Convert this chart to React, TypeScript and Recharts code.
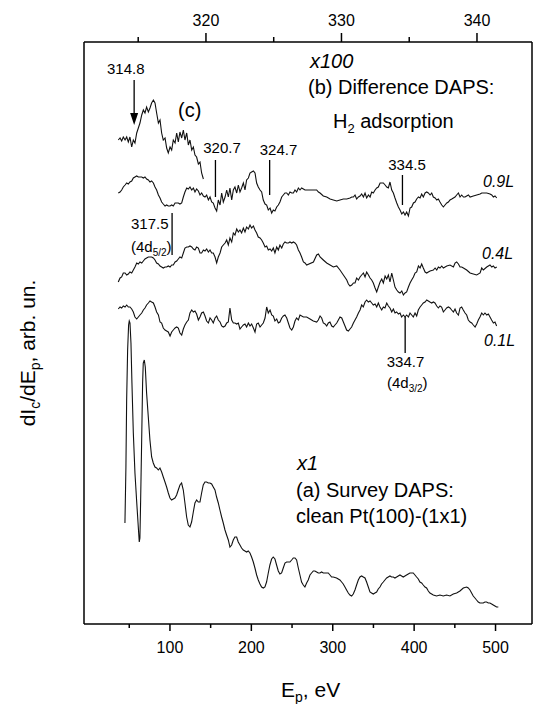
import { LineChart, Line, XAxis, YAxis, ReferenceLine, ReferenceDot } from 'recharts';

const FONT = '"Liberation Sans", Arial, Helvetica, sans-serif';

// Axis ticks
const bottomTicks = [50, 100, 150, 200, 250, 300, 350, 400, 450, 500];
const topTicks = [315, 320, 325, 330, 335, 340];

// (a) Survey DAPS, x1, bottom axis (Ep, eV) vs arb. un.
const survey: [number, number][] = [
  [44.7, 10.1], [45.9, 15.7], [46.8, 22.4], [48.0, 27.4], [49.2, 29.9], [50.0, 30.3], [50.9, 30.1], [52.1, 28.1],
  [53.3, 24.1], [55.0, 19.1], [57.0, 15.1], [59.0, 12.4], [61.1, 9.7], [62.3, 8.2], [63.1, 8.6], [64.0, 12.4],
  [65.2, 18.1], [66.4, 24.1], [67.2, 26.1], [68.5, 26.4], [69.7, 25.7], [71.3, 23.1], [73.4, 20.7], [75.4, 18.4],
  [77.5, 16.7], [79.5, 16.1], [81.6, 15.7], [83.6, 15.6], [85.7, 15.4], [87.7, 15.6], [89.8, 15.2], [91.8, 14.7],
  [93.9, 14.2], [95.9, 13.7], [98.0, 13.1], [100.0, 12.6], [102.0, 12.4], [104.1, 12.5], [106.1, 12.6], [108.2, 12.9],
  [110.2, 13.4], [112.3, 13.9], [114.3, 14.1], [116.4, 13.4], [118.4, 12.1], [120.5, 10.7], [122.5, 9.9], [124.6, 9.7],
  [126.6, 10.2], [128.7, 11.2], [130.7, 12.1], [132.8, 12.4], [134.8, 12.2], [136.9, 12.2], [138.9, 13.1], [140.9, 13.9],
  [143.0, 14.2], [145.0, 14.2], [147.1, 14.1], [149.1, 14.1], [151.2, 14.0], [153.2, 13.7], [155.3, 13.4], [157.3, 12.7],
  [159.4, 12.1], [161.4, 11.4], [163.5, 10.7], [165.5, 10.1], [167.6, 9.4], [169.6, 8.9], [171.7, 8.4], [173.7, 7.7],
  [175.8, 7.9], [177.8, 8.4], [179.8, 8.7], [181.9, 8.7], [183.9, 8.2], [186.0, 7.9], [188.0, 7.6], [190.1, 7.4],
  [192.1, 7.3], [194.2, 7.2], [196.2, 7.3], [198.3, 7.1], [200.3, 6.7], [202.4, 6.2], [204.4, 5.6], [206.5, 4.9],
  [208.5, 4.4], [210.6, 4.0], [212.6, 3.7], [214.7, 3.6], [216.7, 3.7], [218.7, 4.2], [220.8, 5.1], [222.8, 5.9],
  [224.9, 6.5], [226.9, 6.7], [229.0, 6.5], [231.0, 5.9], [233.1, 5.3], [235.1, 5.0], [237.2, 5.1], [239.2, 5.6],
  [241.3, 6.1], [243.3, 6.2], [245.4, 6.2], [247.4, 6.2], [249.5, 6.4], [251.5, 6.6], [253.6, 6.6], [255.6, 6.4],
  [257.7, 5.6], [259.7, 4.9], [261.7, 4.2], [263.8, 3.9], [265.8, 3.7], [267.9, 4.1], [269.9, 4.4], [272.0, 4.9],
  [274.0, 5.1], [276.1, 5.3], [278.1, 5.3], [280.2, 5.2], [282.2, 5.1], [284.3, 5.1], [286.3, 5.2], [288.4, 5.1],
  [290.4, 5.1], [292.5, 5.1], [294.5, 5.1], [296.6, 4.9], [298.6, 4.7], [300.6, 4.7], [304.7, 4.6], [308.8, 4.4],
  [310.9, 4.2], [312.9, 4.0], [315.0, 3.7], [317.0, 3.4], [319.1, 3.1], [321.1, 2.9], [323.2, 2.8], [325.2, 3.0],
  [327.3, 3.4], [329.3, 3.9], [331.4, 4.4], [333.4, 4.7], [335.5, 4.8], [337.5, 4.7], [339.6, 4.6], [341.6, 4.2],
  [343.7, 3.7], [345.7, 3.2], [347.7, 3.1], [349.8, 3.0], [351.8, 3.1], [353.9, 3.2], [355.9, 3.5], [358.0, 3.7],
  [360.0, 4.0], [362.1, 4.2], [364.1, 4.4], [366.2, 4.6], [368.2, 4.7], [370.3, 4.8], [372.3, 4.7], [374.4, 4.7],
  [376.4, 4.6], [378.5, 4.7], [380.5, 4.8], [382.6, 4.9], [384.6, 4.8], [386.6, 4.7], [388.7, 4.8], [390.7, 4.9],
  [392.8, 5.0], [394.8, 5.1], [396.9, 5.1], [398.9, 5.1], [401.0, 4.9], [403.0, 4.7], [405.1, 4.5], [407.1, 4.2],
  [409.2, 4.1], [411.2, 3.9], [413.3, 3.7], [415.3, 3.6], [417.4, 3.3], [419.4, 3.1], [421.5, 3.0], [423.5, 2.9],
  [427.6, 2.8], [431.7, 2.9], [435.8, 2.8], [439.9, 2.9], [444.0, 2.8], [448.1, 3.0], [452.2, 3.1], [456.3, 3.3],
  [460.4, 3.6], [464.5, 3.7], [466.5, 3.6], [468.6, 3.4], [470.6, 3.1], [472.6, 2.8], [474.7, 2.6], [476.7, 2.4],
  [478.8, 2.2], [480.8, 2.1], [484.9, 2.1], [487.0, 2.2], [489.0, 2.2], [491.1, 2.1], [493.1, 2.1], [495.2, 2.0],
  [497.2, 1.9], [499.3, 1.8], [501.3, 1.7], [503.4, 1.7],
];

// (c) curve, top axis (eV) x100
const curveC: [number, number][] = [
  [313.53, 48.4], [313.66, 48.6], [313.78, 48.3], [313.9, 48.7], [314.03, 48.4], [314.15, 48.7], [314.27, 48.2],
  [314.39, 48.7], [314.52, 47.7], [314.64, 48.4], [314.76, 48.1], [314.89, 49.1], [315.01, 49.6], [315.13, 50.1],
  [315.26, 50.9], [315.38, 51.4], [315.5, 51.1], [315.62, 51.7], [315.75, 51.2], [315.87, 51.6], [315.99, 52.1],
  [316.12, 52.4], [316.24, 52.1], [316.36, 51.1], [316.49, 50.1], [316.61, 50.4], [316.73, 49.1], [316.85, 48.4],
  [316.98, 48.6], [317.1, 47.6], [317.22, 47.1], [317.35, 47.7], [317.47, 47.4], [317.59, 48.4], [317.72, 48.1],
  [317.84, 49.1], [317.96, 48.2], [318.08, 49.2], [318.21, 48.6], [318.33, 49.4], [318.45, 48.4], [318.58, 49.1],
  [318.7, 47.9], [318.82, 48.4], [318.95, 47.4], [319.07, 47.7], [319.19, 46.9], [319.31, 46.7], [319.44, 46.0],
  [319.56, 46.2], [319.68, 45.1], [319.81, 44.5],
];

// 0.9 L exposure
const exp09: [number, number][] = [
  [313.53, 43.1], [313.66, 43.2], [313.78, 43.4], [313.9, 43.7], [314.03, 43.9], [314.15, 44.1], [314.27, 44.0],
  [314.39, 44.2], [314.52, 44.3], [314.64, 44.6], [314.76, 44.7], [314.89, 44.8], [315.01, 44.7], [315.13, 44.7],
  [315.26, 44.7], [315.38, 44.6], [315.5, 44.7], [315.62, 44.5], [315.75, 44.4], [315.87, 44.2], [315.99, 44.3],
  [316.12, 44.1], [316.24, 43.7], [316.36, 43.4], [316.49, 42.9], [316.61, 42.6], [316.73, 42.2], [316.85, 42.0],
  [316.98, 41.8], [317.1, 41.9], [317.22, 41.8], [317.35, 41.8], [317.47, 41.9], [317.59, 41.8], [317.72, 42.1],
  [317.84, 42.1], [317.96, 42.1], [318.08, 42.0], [318.21, 42.1], [318.33, 42.7], [318.45, 43.2], [318.58, 43.6],
  [318.7, 43.5], [318.82, 43.7], [318.95, 43.4], [319.07, 43.6], [319.19, 43.2], [319.31, 43.5], [319.44, 43.3],
  [319.56, 42.9], [319.68, 43.1], [319.81, 42.8], [319.93, 42.7], [320.05, 42.9], [320.18, 42.4], [320.3, 42.7],
  [320.42, 42.2], [320.54, 42.1], [320.67, 41.6], [320.79, 41.3], [320.91, 42.4], [321.04, 41.9], [321.16, 43.1],
  [321.28, 42.2], [321.41, 42.7], [321.53, 43.4], [321.65, 42.7], [321.77, 43.6], [321.9, 42.4], [322.02, 43.4],
  [322.14, 43.7], [322.27, 43.1], [322.39, 43.9], [322.51, 43.2], [322.63, 43.6], [322.76, 44.1], [322.88, 43.4],
  [323.0, 44.4], [323.13, 44.6], [323.25, 45.1], [323.37, 45.2], [323.5, 45.3], [323.62, 45.1], [323.74, 44.1],
  [323.86, 43.7], [323.99, 43.4], [324.11, 43.2], [324.23, 42.4], [324.36, 42.0], [324.48, 41.9], [324.6, 41.4],
  [324.73, 41.6], [324.85, 41.1], [324.97, 41.4], [325.09, 41.3], [325.22, 41.7], [325.34, 41.9], [325.46, 42.2],
  [325.59, 42.7], [325.71, 42.9], [325.83, 43.1], [325.96, 43.1], [326.08, 42.9], [326.2, 43.2], [326.33, 43.1],
  [326.45, 43.1], [326.57, 43.4], [326.69, 43.2], [326.82, 43.6], [326.94, 43.4], [327.06, 43.6], [327.19, 43.5],
  [327.31, 43.4], [327.43, 43.4], [327.93, 43.4], [328.17, 43.4], [328.3, 43.2], [328.42, 43.1], [328.66, 42.8],
  [328.91, 42.7], [329.16, 42.5], [329.4, 42.4], [329.65, 42.3], [329.89, 42.4], [330.14, 42.5], [330.39, 42.5],
  [330.63, 42.6], [330.76, 42.7], [330.88, 42.7], [331.0, 42.9], [331.12, 42.5], [331.25, 42.7], [331.37, 42.8],
  [331.49, 43.0], [331.62, 42.7], [331.74, 43.1], [331.86, 42.6], [331.99, 42.9], [332.11, 42.7], [332.23, 43.2],
  [332.35, 43.1], [332.48, 43.4], [332.6, 43.6], [332.72, 43.7], [332.85, 44.1], [332.97, 44.1], [333.09, 44.1],
  [333.22, 43.9], [333.34, 43.7], [333.46, 43.6], [333.58, 44.2], [333.71, 43.4], [333.83, 43.1], [333.95, 42.6],
  [334.08, 42.1], [334.2, 41.7], [334.32, 41.4], [334.45, 41.0], [334.57, 41.2], [334.69, 40.9], [334.81, 41.2],
  [334.94, 40.8], [335.06, 41.6], [335.18, 41.7], [335.31, 42.1], [335.43, 42.2], [335.55, 42.5], [335.68, 42.7],
  [335.8, 42.6], [335.92, 43.0], [336.04, 42.7], [336.17, 43.1], [336.29, 43.2], [336.41, 43.1], [336.54, 42.9],
  [336.66, 43.1], [336.78, 42.7], [336.91, 42.6], [337.03, 42.4], [337.15, 42.5], [337.27, 42.2], [337.4, 41.9],
  [337.52, 41.7], [337.64, 41.9], [337.77, 42.1], [337.89, 42.2], [338.01, 42.4], [338.14, 42.5], [338.26, 42.6],
  [338.38, 42.7], [338.5, 42.9], [338.63, 43.1], [338.75, 42.7], [338.87, 42.9], [339.0, 42.7], [339.12, 42.7],
  [339.24, 42.8], [339.37, 42.9], [339.49, 42.7], [339.73, 42.8], [339.98, 42.9], [340.23, 43.0], [340.35, 43.1],
  [340.47, 43.1], [340.72, 43.1], [340.96, 43.0], [341.09, 42.9], [341.21, 42.7], [341.33, 42.8], [341.46, 42.6],
];

// 0.4 L exposure
const exp04: [number, number][] = [
  [313.53, 34.2], [313.66, 34.6], [313.78, 34.7], [313.9, 35.1], [314.03, 35.1], [314.15, 34.9], [314.27, 35.0],
  [314.39, 35.2], [314.52, 35.1], [314.64, 35.4], [314.76, 35.7], [314.89, 36.1], [315.01, 36.0], [315.13, 36.2],
  [315.26, 36.1], [315.38, 36.3], [315.5, 36.5], [315.62, 36.6], [315.75, 36.7], [315.87, 36.7], [315.99, 36.7],
  [316.12, 36.6], [316.24, 36.4], [316.36, 36.1], [316.49, 36.0], [316.61, 35.8], [316.73, 35.7], [316.85, 35.6],
  [316.98, 35.7], [317.1, 35.7], [317.22, 35.8], [317.35, 35.7], [317.47, 35.9], [317.59, 35.9], [317.72, 36.2],
  [317.84, 36.3], [317.96, 36.5], [318.08, 36.7], [318.21, 36.6], [318.33, 37.1], [318.45, 37.6], [318.58, 37.7],
  [318.7, 37.7], [318.82, 37.8], [318.95, 37.7], [319.07, 37.5], [319.19, 37.4], [319.31, 37.7], [319.44, 37.6],
  [319.56, 37.1], [319.68, 37.1], [319.81, 37.4], [319.93, 37.3], [320.05, 37.5], [320.18, 37.2], [320.3, 37.4],
  [320.42, 37.1], [320.54, 37.1], [320.67, 36.7], [320.79, 36.1], [320.91, 36.7], [321.04, 37.1], [321.16, 37.7],
  [321.28, 37.9], [321.41, 38.1], [321.53, 38.4], [321.65, 37.9], [321.77, 38.6], [321.9, 38.2], [322.02, 39.1],
  [322.14, 38.9], [322.27, 39.5], [322.39, 39.2], [322.51, 39.4], [322.63, 39.1], [322.76, 39.6], [322.88, 39.2],
  [323.0, 39.7], [323.13, 39.5], [323.25, 39.9], [323.37, 39.6], [323.5, 39.8], [323.62, 39.4], [323.74, 39.1],
  [323.86, 38.7], [323.99, 38.6], [324.11, 38.4], [324.23, 38.1], [324.36, 37.7], [324.48, 37.8], [324.6, 37.4],
  [324.73, 37.5], [324.85, 37.3], [324.97, 37.6], [325.09, 37.1], [325.22, 37.7], [325.34, 37.4], [325.46, 37.9],
  [325.59, 37.6], [325.71, 38.0], [325.83, 38.2], [325.96, 38.1], [326.08, 38.1], [326.2, 38.2], [326.33, 38.1],
  [326.45, 38.2], [326.57, 38.1], [326.69, 37.9], [326.82, 37.4], [326.94, 37.1], [327.06, 36.7], [327.19, 36.2],
  [327.31, 36.1], [327.43, 35.9], [327.93, 36.2], [328.17, 36.9], [328.3, 37.0], [328.42, 36.7], [328.66, 36.4],
  [328.91, 36.1], [329.16, 35.9], [329.4, 35.7], [329.65, 35.8], [329.89, 35.4], [330.14, 34.9], [330.39, 34.4],
  [330.51, 34.0], [330.63, 33.8], [330.76, 33.9], [330.88, 34.1], [331.0, 34.1], [331.12, 34.6], [331.25, 34.4],
  [331.37, 34.7], [331.49, 34.9], [331.62, 35.1], [331.74, 34.7], [331.86, 35.2], [331.99, 34.9], [332.11, 34.6],
  [332.23, 34.4], [332.35, 34.1], [332.48, 33.6], [332.6, 33.2], [332.72, 33.7], [332.85, 34.2], [332.97, 34.5],
  [333.09, 34.1], [333.22, 34.8], [333.34, 34.5], [333.46, 34.9], [333.58, 34.2], [333.71, 35.1], [333.83, 34.4],
  [333.95, 33.7], [334.08, 33.4], [334.2, 33.2], [334.32, 33.1], [334.45, 33.3], [334.57, 32.9], [334.69, 33.1],
  [334.81, 33.2], [334.94, 33.7], [335.06, 34.1], [335.18, 34.4], [335.31, 34.7], [335.43, 35.1], [335.55, 35.2],
  [335.68, 35.8], [335.8, 35.6], [335.92, 36.0], [336.04, 35.6], [336.17, 35.2], [336.29, 35.1], [336.41, 35.2],
  [336.54, 35.3], [336.78, 35.4], [336.91, 35.6], [337.03, 35.4], [337.15, 35.7], [337.27, 35.6], [337.4, 35.8],
  [337.52, 35.6], [337.77, 35.8], [338.01, 35.9], [338.26, 35.7], [338.38, 36.1], [338.5, 36.2], [338.63, 36.0],
  [338.75, 35.7], [338.87, 35.7], [339.0, 35.6], [339.24, 35.4], [339.49, 35.1], [339.73, 35.0], [339.98, 34.9],
  [340.23, 35.1], [340.35, 35.6], [340.47, 35.4], [340.72, 35.7], [340.96, 35.9], [341.09, 35.7], [341.21, 35.8],
  [341.33, 35.6], [341.46, 35.7],
];

// 0.1 L exposure
const exp01: [number, number][] = [
  [313.53, 31.5], [313.66, 31.7], [313.78, 31.6], [313.9, 31.8], [314.03, 31.7], [314.15, 31.9], [314.27, 31.7],
  [314.39, 31.7], [314.52, 31.5], [314.64, 31.2], [314.76, 30.7], [314.89, 30.5], [315.01, 30.7], [315.13, 30.9],
  [315.26, 31.1], [315.38, 31.4], [315.5, 31.6], [315.62, 31.9], [315.75, 32.1], [315.87, 32.3], [315.99, 32.2],
  [316.12, 32.1], [316.24, 31.7], [316.36, 31.2], [316.49, 30.9], [316.61, 30.2], [316.73, 30.1], [316.85, 29.6],
  [316.98, 29.4], [317.1, 29.3], [317.22, 29.2], [317.35, 28.8], [317.47, 29.2], [317.59, 29.4], [317.72, 29.6],
  [317.84, 29.7], [317.96, 29.6], [318.08, 29.1], [318.21, 28.9], [318.33, 29.5], [318.45, 29.9], [318.58, 30.2],
  [318.7, 30.4], [318.82, 31.1], [318.95, 31.4], [319.07, 31.2], [319.19, 31.3], [319.31, 31.0], [319.44, 30.4],
  [319.56, 30.7], [319.68, 31.1], [319.81, 31.2], [319.93, 30.8], [320.05, 30.3], [320.18, 30.1], [320.3, 30.6],
  [320.42, 30.4], [320.54, 30.1], [320.67, 30.6], [320.79, 30.8], [320.91, 30.4], [321.04, 30.2], [321.16, 29.8],
  [321.28, 29.7], [321.41, 29.8], [321.53, 30.1], [321.65, 30.2], [321.77, 31.6], [321.9, 30.4], [322.02, 30.1],
  [322.14, 30.1], [322.27, 30.0], [322.39, 30.1], [322.51, 29.5], [322.63, 29.7], [322.76, 29.9], [322.88, 30.0],
  [323.0, 29.7], [323.13, 30.1], [323.25, 29.8], [323.37, 30.0], [323.5, 29.6], [323.62, 29.2], [323.74, 30.0],
  [323.86, 30.1], [323.99, 29.7], [324.11, 29.9], [324.23, 30.1], [324.36, 30.6], [324.48, 31.7], [324.6, 31.1],
  [324.73, 31.4], [324.85, 30.9], [324.97, 30.8], [325.09, 30.3], [325.22, 30.5], [325.34, 30.1], [325.46, 30.2],
  [325.59, 30.6], [325.71, 30.8], [325.83, 30.9], [325.96, 30.6], [326.08, 30.1], [326.2, 29.6], [326.33, 29.4],
  [326.45, 29.7], [326.57, 30.3], [326.69, 30.6], [326.82, 30.4], [326.94, 30.9], [327.19, 30.7], [327.43, 30.7],
  [327.68, 30.5], [327.92, 30.3], [328.17, 30.2], [328.29, 30.4], [328.42, 30.8], [328.54, 30.6], [328.66, 30.1],
  [328.79, 30.0], [328.91, 29.8], [329.03, 30.1], [329.15, 30.2], [329.28, 29.8], [329.4, 29.7], [329.52, 29.9],
  [329.65, 30.1], [329.77, 30.4], [329.89, 30.7], [330.02, 30.6], [330.14, 30.2], [330.26, 29.8], [330.38, 29.4],
  [330.51, 29.3], [330.63, 29.5], [330.75, 29.7], [330.88, 30.1], [331.0, 30.4], [331.12, 30.7], [331.25, 31.1],
  [331.37, 31.4], [331.49, 31.9], [331.61, 31.7], [331.74, 32.2], [331.86, 32.4], [331.98, 32.2], [332.11, 32.3],
  [332.23, 32.1], [332.35, 31.9], [332.48, 32.0], [332.6, 31.7], [332.72, 32.1], [332.84, 31.7], [332.97, 31.4],
  [333.09, 31.7], [333.21, 31.6], [333.34, 32.1], [333.46, 31.8], [333.58, 31.6], [333.71, 31.2], [333.83, 31.5],
  [333.95, 31.1], [334.07, 31.2], [334.2, 31.0], [334.32, 31.1], [334.44, 30.7], [334.57, 30.9], [334.69, 30.7],
  [334.81, 30.9], [334.94, 30.7], [335.06, 31.1], [335.18, 30.9], [335.3, 30.7], [335.43, 31.1], [335.55, 30.8],
  [335.67, 31.4], [335.8, 31.7], [335.92, 31.9], [336.04, 32.1], [336.17, 32.2], [336.29, 32.4], [336.41, 32.3],
  [336.53, 32.2], [336.66, 32.1], [336.78, 32.2], [336.9, 32.1], [337.03, 31.8], [337.15, 31.6], [337.27, 31.8],
  [337.39, 31.7], [337.52, 31.2], [337.64, 31.4], [337.76, 31.6], [337.89, 31.7], [338.01, 31.6], [338.13, 31.4],
  [338.26, 31.2], [338.38, 31.5], [338.5, 31.1], [338.63, 30.9], [338.75, 31.6], [338.87, 31.7], [338.99, 31.4],
  [339.12, 31.1], [339.24, 30.9], [339.36, 30.4], [339.49, 30.2], [339.61, 30.1], [339.73, 29.9], [339.86, 29.7],
  [339.98, 30.0], [340.1, 30.4], [340.22, 30.7], [340.35, 31.1], [340.47, 30.9], [340.59, 31.1], [340.72, 30.9],
  [340.84, 31.0], [340.96, 30.7], [341.08, 30.4], [341.21, 30.1], [341.33, 30.2], [341.45, 29.8],
];

// Peak marker lines: [energy, lower, upper]
const markers: [number, number, number][] = [
  [320.7, 42.7, 46.4],
  [324.7, 42.9, 46.4],
  [334.5, 41.9, 44.9],
  [317.5, 36.9, 41.1],
  [334.7, 27.1, 30.7],
];
// arrow at 314.8 (shaft top, tip)
const arrow = { e: 314.7, top: 54.4, tip: 49.9 };

const rows = (pts: [number, number][]) => pts.map(([e, v]) => ({ e, v }));

const INK = '#111';

const BottomTick = (props: any) => {
  const { x, y, payload } = props;
  const major = payload.value % 100 === 0;
  return (
    <g>
      <line x1={x} x2={x} y1={y} y2={y + (major ? 7 : 4)} stroke="#000" strokeWidth={1.5} />
      {major && (
        <text x={x} y={y + 29} textAnchor="middle" fontSize={16} fontFamily={FONT} fill="#000">
          {payload.value}
        </text>
      )}
    </g>
  );
};

const TopTick = (props: any) => {
  const { x, y, payload } = props;
  const major = payload.value % 10 === 0;
  return (
    <g>
      <line x1={x} x2={x} y1={y} y2={y - (major ? 9 : 5)} stroke="#000" strokeWidth={1.5} />
      {major && (
        <text x={x} y={y - 16} textAnchor="middle" fontSize={16} fontFamily={FONT} fill="#000">
          {payload.value}
        </text>
      )}
    </g>
  );
};

const ArrowHead = (props: any) => {
  const { cx, cy } = props;
  return <path d={`M${cx - 4},${cy - 12} L${cx + 4},${cy - 12} L${cx},${cy} Z`} fill="#000" />;
};

const frame = { stroke: '#000', strokeWidth: 1.5 };

export default function App() {
  const t = (size: number, italic = false) => ({
    fontFamily: FONT,
    fontSize: size,
    fontStyle: italic ? 'italic' : 'normal',
    fill: '#000',
  });

  return (
    <div style={{ position: 'absolute', left: 0, top: 0, width: 534, height: 704, background: '#fff' }}>
      <LineChart width={534} height={704} margin={{ top: 0, right: 0, bottom: 0, left: 0 }}>
        <XAxis
          xAxisId="bot"
          type="number"
          dataKey="e"
          domain={[-5.6, 544.8]}
          ticks={bottomTicks}
          interval={0}
          tick={<BottomTick />}
          tickLine={false}
          tickSize={0}
          tickMargin={0}
          axisLine={frame}
          height={80}
          allowDataOverflow
        />
        <XAxis
          xAxisId="top"
          orientation="top"
          type="number"
          dataKey="e"
          domain={[311, 344.06]}
          ticks={topTicks}
          interval={0}
          tick={<TopTick />}
          tickLine={false}
          tickSize={0}
          tickMargin={0}
          axisLine={frame}
          height={42}
          allowDataOverflow
        />
        <YAxis yAxisId="i" type="number" domain={[0, 58.2]} width={84} tick={false} tickLine={false} axisLine={frame} />
        <YAxis yAxisId="r" orientation="right" type="number" domain={[0, 58.2]} width={2} tick={false} tickLine={false} axisLine={frame} />

        <Line xAxisId="bot" yAxisId="i" data={rows(survey)} dataKey="v" type="linear" dot={false} stroke={INK} strokeWidth={1.1} isAnimationActive={false} />
        <Line xAxisId="top" yAxisId="i" data={rows(curveC)} dataKey="v" type="linear" dot={false} stroke={INK} strokeWidth={1.1} isAnimationActive={false} />
        <Line xAxisId="top" yAxisId="i" data={rows(exp09)} dataKey="v" type="linear" dot={false} stroke={INK} strokeWidth={1.1} isAnimationActive={false} />
        <Line xAxisId="top" yAxisId="i" data={rows(exp04)} dataKey="v" type="linear" dot={false} stroke={INK} strokeWidth={1.1} isAnimationActive={false} />
        <Line xAxisId="top" yAxisId="i" data={rows(exp01)} dataKey="v" type="linear" dot={false} stroke={INK} strokeWidth={1.1} isAnimationActive={false} />

        {markers.map(([e, lo, hi]) => (
          <ReferenceLine
            key={e}
            xAxisId="top"
            yAxisId="i"
            segment={[{ x: e, y: lo }, { x: e, y: hi }]}
            stroke="#000"
            strokeWidth={1.3}
          />
        ))}
        <ReferenceLine
          xAxisId="top"
          yAxisId="i"
          segment={[{ x: arrow.e, y: arrow.top }, { x: arrow.e, y: arrow.tip + 1 }]}
          stroke="#000"
          strokeWidth={1.3}
        />
        <ReferenceDot xAxisId="top" yAxisId="i" x={arrow.e} y={arrow.tip} r={4} shape={<ArrowHead />} />
      </LineChart>

      <svg width={534} height={704} style={{ position: 'absolute', left: 0, top: 0, pointerEvents: 'none' }}>
        <text x={310} y={68} {...t(20, true)}>x100</text>
        <text x={308} y={94} {...t(20)}>(b) Difference DAPS:</text>
        <text x={333} y={128} {...t(20)}>
          H<tspan dy={5} fontSize={13}>2</tspan><tspan dy={-5}> adsorption</tspan>
        </text>
        <text x={178} y={117} {...t(20)}>(c)</text>
        <text x={107} y={74} {...t(15)}>314.8</text>
        <text x={222} y={153} textAnchor="middle" {...t(15)}>320.7</text>
        <text x={278.5} y={155} textAnchor="middle" {...t(15)}>324.7</text>
        <text x={407} y={170} textAnchor="middle" {...t(15)}>334.5</text>
        <text x={483} y={187} {...t(16, true)}>0.9L</text>
        <text x={131} y={229} {...t(15)}>317.5</text>
        <text x={131} y={252} {...t(15)}>
          (4d<tspan dy={4} fontSize={10}>5/2</tspan><tspan dy={-4}>)</tspan>
        </text>
        <text x={482} y={259} {...t(16, true)}>0.4L</text>
        <text x={484} y={346} {...t(16, true)}>0.1L</text>
        <text x={405.5} y={367} textAnchor="middle" {...t(15)}>334.7</text>
        <text x={387} y={388} {...t(15)}>
          (4d<tspan dy={4} fontSize={10}>3/2</tspan><tspan dy={-4}>)</tspan>
        </text>
        <text x={297} y={470} {...t(20, true)}>x1</text>
        <text x={296} y={497} {...t(20)}>(a) Survey DAPS:</text>
        <text x={296} y={523} {...t(20)}>clean Pt(100)-(1x1)</text>
        <text x={281} y={697} {...t(21)}>
          E<tspan dy={5} fontSize={14}>p</tspan><tspan dy={-5}>, eV</tspan>
        </text>
        <text transform="translate(35,353) rotate(-90)" textAnchor="middle" {...t(21)}>
          dI<tspan dy={5} fontSize={14}>c</tspan><tspan dy={-5}>/dE</tspan><tspan dy={5} fontSize={14}>p</tspan><tspan dy={-5}>, arb. un.</tspan>
        </text>
      </svg>
    </div>
  );
}
